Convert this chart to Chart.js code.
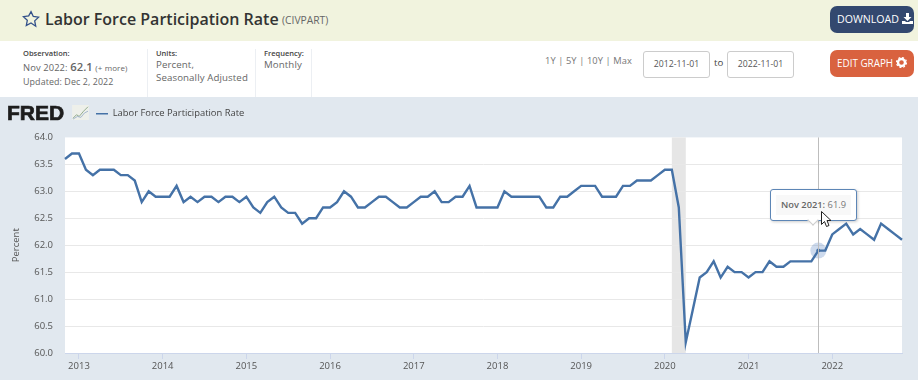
<!DOCTYPE html>
<html lang="en">
<head>
<meta charset="utf-8">
<title>Labor Force Participation Rate (CIVPART)</title>
<script src="https://cdn.jsdelivr.net/npm/chart.js@4/dist/chart.umd.min.js"></script>
<style>
  html, body { margin: 0; padding: 0; }
  body { width: 918px; height: 380px; position: relative; overflow: hidden; background: #fff; font-family: "Open Sans", sans-serif; color: #555; }
  .abs { position: absolute; white-space: nowrap; }
  #head { left: 0; top: 0; width: 918px; height: 41px; background: #f1f3de; }
  #title { left: 45px; top: 6px; font-size: 16px; line-height: 26px; font-weight: 600; color: #333; letter-spacing: 0; }
  #code { left: 282px; top: 13px; font-size: 10.3px; line-height: 14px; color: #666; }
  .btn { left: 830px; width: 84px; height: 27px; border-radius: 7px; color: #fff; line-height: 27px; text-align: left; text-indent: 7px; }
  #dl { top: 6px; background: #33486f; font-size: 10.6px; }
  #edit { top: 50px; background: #d9623f; font-size: 9.9px; }
  .lbl { font-size: 7.5px; font-weight: 600; color: #444; line-height: 12px; }
  .val { font-size: 9.7px; color: #666; letter-spacing: .1px; line-height: 14px; }
  .div { top: 49px; width: 1px; height: 48px; background: #eceff3; }
  .date { top: 51px; width: 65px; height: 25px; border: 1px solid #ccc; border-radius: 3px; font-size: 8.7px; line-height: 25px; text-align: center; color: #555; }
  #wrap { left: 0; top: 97px; width: 918px; height: 283px; background: #e1e8ef; }
  #logo { left: 7px; top: 100px; font-family: "Liberation Sans", sans-serif; font-size: 21px; line-height: 26px; font-weight: 700; color: #1d1d1d; -webkit-text-stroke: .7px #1d1d1d; }
  #tip { left: 770px; top: 189px; width: 85px; height: 30px; background: #fff; border: 1px solid #5d86b6; border-radius: 3px; box-shadow: 1px 1px 3px rgba(0,0,0,.2); }
  #tipText { position: absolute; left: 5px; top: 5px; width: 75px; height: 20px; background: #f8f8f8; font-size: 9.3px; line-height: 20px; text-align: center; color: #777; }
  #tipText b { font-weight: 600; color: #666; }
  #caret { position: absolute; left: 38px; top: 26px; width: 7px; height: 7px; background: #fff; transform: rotate(45deg); border-right: 1px solid #ccc; border-bottom: 1px solid #ccc; }
</style>
</head>
<body>
<div class="abs" id="head"></div>
<svg class="abs" style="left:22px;top:10px" width="18" height="18" viewBox="0 0 18 18"><path d="M9 1.6l2.3 4.9 5.3.7-3.9 3.7 1 5.3L9 13l-4.700 2.600 1-5.300-3.900-3.700 5.300-.7z" fill="none" stroke="#33508a" stroke-width="1.300"/></svg>
<div class="abs" id="title">Labor Force Participation Rate</div>
<div class="abs" id="code">(CIVPART)</div>
<div class="abs btn" id="dl">DOWNLOAD <svg width="11" height="11" viewBox="0 0 11 11" style="vertical-align:-1px"><path d="M4 0h3v4h2.500L5.500 8 1.500 4H4zM0 8h3l1 1h3l1-1h3v3H0z" fill="#fff"/></svg></div>
<div class="abs btn" id="edit">EDIT GRAPH <svg width="11" height="11" viewBox="0 0 11 11" style="vertical-align:-1px"><circle cx="5.500" cy="5.500" r="3.500" fill="none" stroke="#fff" stroke-width="2.400"/><circle cx="5.500" cy="5.500" r="5" fill="none" stroke="#fff" stroke-width="1.200" stroke-dasharray="2 1.930"/></svg></div>

<div class="abs lbl" style="left:23px;top:47px">Observation:</div>
<div class="abs val" style="left:23px;top:60px;font-size:9.4px">Nov 2022: <span style="font-size:11.2px;font-weight:600">62.1</span> <span style="font-size:8px">(+ more)</span></div>
<div class="abs val" style="left:23px;top:75px;font-size:8.9px">Updated: Dec 2, 2022</div>
<div class="abs div" style="left:147px"></div>
<div class="abs lbl" style="left:156px;top:47px">Units:</div>
<div class="abs val" style="left:156px;top:58px">Percent,</div>
<div class="abs val" style="left:156px;top:71px">Seasonally Adjusted</div>
<div class="abs div" style="left:255px"></div>
<div class="abs lbl" style="left:264px;top:47px">Frequency:</div>
<div class="abs val" style="left:264px;top:58px">Monthly</div>
<div class="abs div" style="left:311px"></div>
<div class="abs val" style="left:545px;top:54px;font-size:9.3px;color:#777">1Y | 5Y | 10Y | Max</div>
<div class="abs date" style="left:643px">2012-11-01</div>
<div class="abs val" style="left:714px;top:56px;color:#444">to</div>
<div class="abs date" style="left:727px">2022-11-01</div>

<div class="abs" id="wrap"><canvas id="chart" width="918" height="283"></canvas></div>
<div class="abs" id="logo">FRED</div>
<svg class="abs" style="left:72px;top:105px" width="17" height="15" viewBox="0 0 19 17"><rect width="19" height="17" fill="#eef0ea"/><path d="M1 15l4-4 3 2 5-6 5-5" fill="none" stroke="#8fa98a" stroke-width="1.100"/><path d="M1 16l5-3 4 1 4-5 4-2" fill="none" stroke="#9cb1c9" stroke-width="1"/></svg>

<div class="abs" id="tip"><div id="caret"></div><div id="tipText"><b id="tipDate"></b> <span id="tipVal"></span></div></div>
<svg class="abs" style="left:821px;top:211px" width="11" height="17" viewBox="0 0 11 17"><path d="M.5.5v13l3-3 2 5 2.500-1-2-5h4z" fill="#fff" stroke="#222" stroke-width="1"/></svg>

<script>
// Datos
const startYear = 2012;
const startMonth = 10; // noviembre
const monthNames = ['Jan', 'Feb', 'Mar', 'Apr', 'May', 'Jun', 'Jul', 'Aug', 'Sep', 'Oct', 'Nov', 'Dec'];
const seriesName = 'Labor Force Participation Rate';
const participation = [
  63.6, 63.7,
  63.7, 63.4, 63.3, 63.4, 63.4, 63.4, 63.3, 63.3, 63.2, 62.8, 63.0, 62.9,
  62.9, 62.9, 63.1, 62.8, 62.9, 62.8, 62.9, 62.9, 62.8, 62.9, 62.9, 62.8,
  62.9, 62.7, 62.6, 62.8, 62.9, 62.7, 62.6, 62.6, 62.4, 62.5, 62.5, 62.7,
  62.7, 62.8, 63.0, 62.9, 62.7, 62.7, 62.8, 62.9, 62.9, 62.8, 62.7, 62.7,
  62.8, 62.9, 62.9, 63.0, 62.8, 62.8, 62.9, 62.9, 63.1, 62.7, 62.7, 62.7,
  62.7, 63.0, 62.9, 62.9, 62.9, 62.9, 62.9, 62.7, 62.7, 62.9, 62.9, 63.0,
  63.1, 63.1, 63.1, 62.9, 62.9, 62.9, 63.1, 63.1, 63.2, 63.2, 63.2, 63.3,
  63.4, 63.4, 62.7, 60.2, 60.8, 61.4, 61.5, 61.7, 61.4, 61.6, 61.5, 61.5,
  61.4, 61.5, 61.5, 61.7, 61.6, 61.6, 61.7, 61.7, 61.7, 61.7, 61.9, 61.9,
  62.2, 62.3, 62.4, 62.2, 62.3, 62.2, 62.1, 62.4, 62.3, 62.2, 62.1
];
const yTicks = [60, 60.5, 61, 61.5, 62, 62.5, 63, 63.5, 64];
const recessionStart = 'Feb 2020';
const recessionEnd = 'Apr 2020';
const hoverMonth = 'Nov 2021';

const lineColor = '#4572a7';

const months = participation.map((_, i) => {
  const m = startMonth + i;
  return monthNames[m % 12] + ' ' + (startYear + Math.floor(m / 12));
});
const hoverIndex = months.indexOf(hoverMonth);

// Fondo blanco del area, banda de recesion y linea vertical
const backdrop = {
  id: 'backdrop',
  beforeDraw(chart) {
    const { ctx, chartArea: a, scales: { x } } = chart;
    ctx.save();
    ctx.fillStyle = '#fff';
    ctx.fillRect(a.left, a.top, a.width, a.height);
    ctx.fillStyle = '#e6e6e6';
    const x0 = x.getPixelForValue(months.indexOf(recessionStart));
    const x1 = x.getPixelForValue(months.indexOf(recessionEnd));
    ctx.fillRect(x0, a.top, x1 - x0, a.height);
    ctx.restore();
  },
  afterDatasetsDraw(chart) {
    const { ctx, chartArea: a, scales: { x } } = chart;
    const px = Math.round(x.getPixelForValue(hoverIndex)) + 0.5;
    ctx.save();
    ctx.strokeStyle = '#bdbdbd';
    ctx.lineWidth = 1;
    ctx.beginPath();
    ctx.moveTo(px, a.top);
    ctx.lineTo(px, a.bottom);
    ctx.stroke();
    ctx.restore();
  },
  afterLayout(chart) {
    // leyenda a la derecha del logo
    chart.legend.left = 88;
    chart.legend.top = 4;
  }
};

const chart = new Chart(document.getElementById('chart'), {
  type: 'line',
  data: {
    labels: months,
    datasets: [
      {
        label: seriesName,
        data: participation,
        borderColor: lineColor,
        backgroundColor: lineColor,
        borderWidth: 2.4,
        tension: 0,
        pointRadius: ctx => (ctx.dataIndex === hoverIndex ? 2 : 0),
        pointBackgroundColor: lineColor,
        pointBorderWidth: 0
      },
      {
        label: 'hover',
        data: participation.map((v, i) => (i === hoverIndex ? v : null)),
        showLine: false,
        pointRadius: 8,
        pointBackgroundColor: 'rgba(69,120,190,0.27)',
        pointBorderWidth: 0
      }
    ]
  },
  options: {
    responsive: false,
    animation: false,
    layout: { padding: { top: 13, right: 16, bottom: 0, left: 0 } },
    plugins: {
      tooltip: { enabled: false },
      legend: {
        position: 'top',
        align: 'start',
        labels: {
          filter: item => item.text === seriesName,
          generateLabels: c => Chart.defaults.plugins.legend.labels.generateLabels(c).map(l => ({ ...l, lineWidth: 1.6 })),
          boxWidth: 12,
          boxHeight: 0,
          padding: 8,
          color: '#444',
          font: { family: '"Open Sans"', size: 9.4 }
        }
      }
    },
    scales: {
      x: {
        type: 'category',
        afterBuildTicks(axis) {
          axis.ticks = axis.ticks.filter(t => months[t.value].startsWith('Jan'));
        },
        afterFit(axis) { axis.height = 27; },
        border: { color: '#ccd6eb' },
        grid: { drawOnChartArea: false, tickLength: 6, tickColor: '#ccd6eb' },
        ticks: {
          autoSkip: false,
          maxRotation: 0,
          padding: 2,
          color: '#555',
          font: { family: '"Open Sans"', size: 9.5 },
          callback: value => months[value].slice(-4)
        }
      },
      y: {
        min: 60,
        max: 64,
        afterBuildTicks(axis) {
          axis.ticks = yTicks.map(value => ({ value }));
        },
        afterFit(axis) { axis.width = 65; },
        border: { display: false },
        grid: {
          drawTicks: false,
          color: ctx => (ctx.tick.value === 64 || ctx.tick.value === 60 ? 'rgba(0,0,0,0)' : '#e8e8e8')
        },
        ticks: {
          padding: 12,
          color: '#555',
          font: { family: '"Open Sans"', size: 9.5 },
          callback: value => value.toFixed(1)
        },
        title: {
          display: true,
          text: 'Percent',
          color: '#555',
          padding: { top: 11, bottom: 0 },
          font: { family: '"Open Sans"', size: 9.5 }
        }
      }
    }
  },
  plugins: [backdrop]
});

document.getElementById('tipDate').textContent = hoverMonth + ':';
document.getElementById('tipVal').textContent = participation[hoverIndex].toFixed(1);
</script>
</body>
</html>
